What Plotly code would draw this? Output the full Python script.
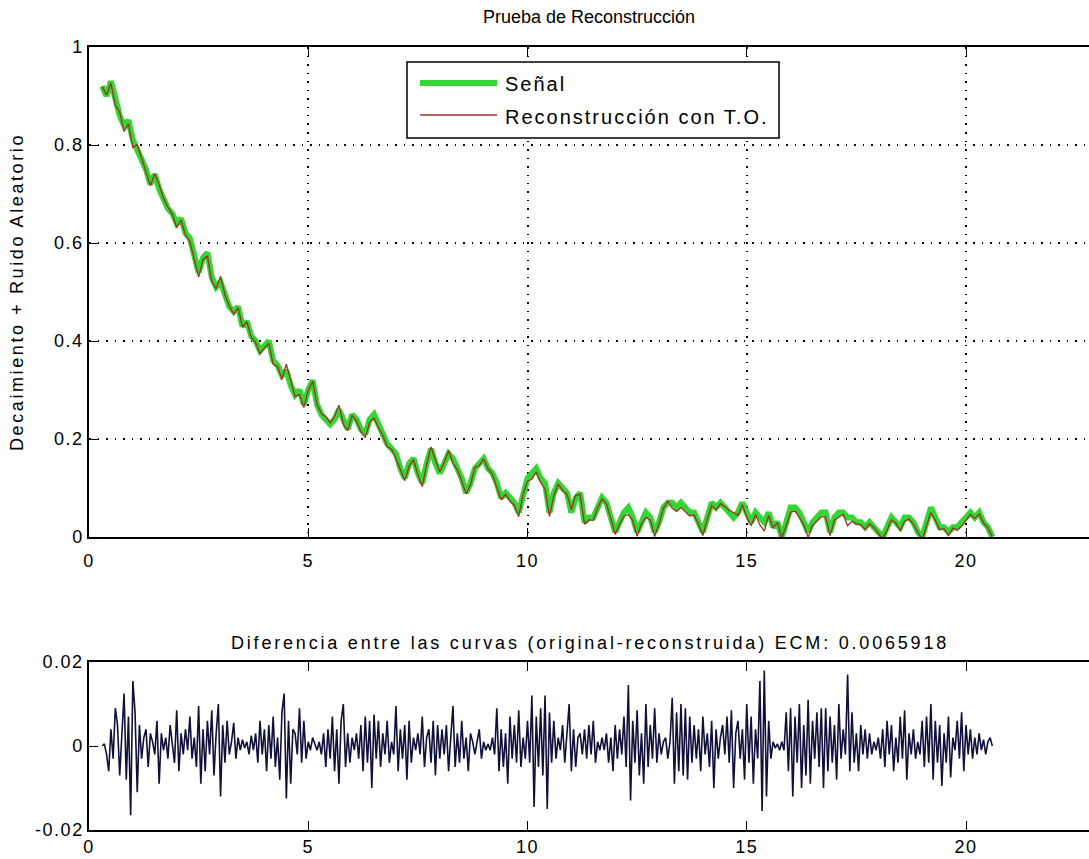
import numpy as np
import plotly.graph_objects as go

# ---------------- data ----------------
t_start = 0.3
dt_signal = 0.1
dt_diff = 0.05

signal = [
    0.92, 0.90, 0.93, 0.89, 0.86, 0.84, 0.85, 0.81, 0.79, 0.77,
    0.75, 0.72, 0.74, 0.71, 0.69, 0.67, 0.66, 0.64, 0.65, 0.62,
    0.61, 0.57, 0.54, 0.57, 0.58, 0.53, 0.51, 0.52, 0.49, 0.47,
    0.46, 0.47, 0.43, 0.44, 0.41, 0.40, 0.38, 0.39, 0.40, 0.36,
    0.35, 0.33, 0.34, 0.31, 0.29, 0.30, 0.27, 0.30, 0.32, 0.27,
    0.25, 0.24, 0.23, 0.24, 0.26, 0.24, 0.22, 0.25, 0.24, 0.22,
    0.21, 0.24, 0.25, 0.23, 0.21, 0.19, 0.18, 0.17, 0.14, 0.12,
    0.15, 0.16, 0.13, 0.11, 0.15, 0.18, 0.15, 0.13, 0.15, 0.17,
    0.16, 0.14, 0.12, 0.09, 0.11, 0.14, 0.15, 0.16, 0.14, 0.13,
    0.11, 0.08, 0.09, 0.08, 0.07, 0.05, 0.09, 0.12, 0.13, 0.14,
    0.12, 0.11, 0.05, 0.09, 0.11, 0.10, 0.09, 0.05, 0.08, 0.09,
    0.03, 0.04, 0.04, 0.06, 0.08, 0.07, 0.04, 0.01, 0.03, 0.05,
    0.06, 0.04, 0.01, 0.03, 0.05, 0.04, 0.01, 0.03, 0.06, 0.07,
    0.07, 0.06, 0.07, 0.06, 0.05, 0.05, 0.03, 0.01, 0.04, 0.07,
    0.06, 0.07, 0.06, 0.05, 0.04, 0.05, 0.07, 0.05, 0.03, 0.05,
    0.04, 0.03, 0.05, 0.02, 0.03, 0.00, 0.03, 0.06, 0.06, 0.05,
    0.03, 0.01, 0.03, 0.04, 0.05, 0.05, 0.01, 0.04, 0.05, 0.05,
    0.04, 0.04, 0.03, 0.03, 0.02, 0.03, 0.02, 0.01, 0.00, 0.02,
    0.04, 0.03, 0.02, 0.04, 0.04, 0.03, 0.01, 0.00, 0.03, 0.06,
    0.04, 0.02, 0.02, 0.01, 0.02, 0.02, 0.03, 0.04, 0.05, 0.04,
    0.05, 0.03, 0.02, 0.00,
]

# difference original - reconstruction, in thousandths
diff_milli = [
    0, 0.5, -2, -6, 4, -3, 9, 5, -7, 3,
    12.5, -8, 7, -16.5, 15.5, 8, -11, 5, -3, 2,
    4, -5, 3, 1, -2, 6, -9, 3, -1, 2,
    -3, 5, 1, -4, 8.5, -6, 3, -2, 4, -1,
    7, -3, 2, -5, 9.5, -9, 4, -6, 6, -2,
    8.5, -7, 3, 10, -12, 5, -4, 6, -2, 1,
    5.5, -3, 2, -1, 1.5, -0.5, 1, -2, 2.5, -1,
    3, -4, 6, -2, 4, -6, 5, -3, 7, -5,
    2, -8, 8, 12.5, -12.5, 6, -9, 4, 3, -2,
    9, -4, 6, -3, 1, -1, 2, 0.5, -1, 1,
    -2, 3, -5, 4, -3, 7, -6, 4, -9, 6,
    10, -5, 3, -4, 2, -1, 3, -3, 5, -6,
    7, -4, 6, -10, 7.5, -3, 6, -5, 3, -2,
    6, -4, 1, -2, 9.5, -6, 4, -3, 5, -8,
    6, -4, 2, -1, 3, -2, 7, -5, 2, 4,
    -4, 6, -7, 5, -3, 4, -2, 5, -6, 2,
    9.5, -5, 3, -4, 6, -3, 2, -6, 3, 1,
    -2, 1, 4, -3, 1, -1, 0.5, -1, 2, -2,
    9, -6, 4, -5, 3, -9, 7, -3, 5, -4,
    8.5, -5, 2, -3, 6, -4, 12, -14.5, 7, -5,
    9, -7, 12, -15, 8, -4, 6, -3, 2, -1,
    5, -4, 3, 10, -6, 4, -5, 2, 3, -2,
    4, -3, 5, -2, 6, -4, 1, -1, 2, -1,
    3, -4, 2, -6, 5, -3, 4, -2, 7, -5,
    14.5, -13, 6, -4, 8.5, -7, 3, -9, 10, -5,
    5, -3, 9, -4, 3, -2, 1, 2, -3, 1,
    11.5, -9, 8, -6, 10, -7, 9, -8, 7, -4,
    5, -3, 4, -6, 7, -2, 3, -5, 6, -10,
    4, -3, 2, 5, -2, 7, -4, 8.5, -10, 3,
    6, -3, 4, -8, 10, -4, 7, -9, 4, -3,
    15.5, -15.5, 18, -12, 6, -3, 1, -0.5, 0.5, -1,
    1, -1, 8, -6, 9, -12, 7, -4, 10, -10,
    5, -7, 11, -9, 6, -3, 8, -5, 9, -10,
    9, -6, 7, -4, 5, -8, 10, -3, 4, -2,
    17, -6, 8, -4, 3, -6, 5, -2, 4, -3,
    3, -2, 1, -1, 2, -3, 4, -5, 6, -2,
    5, -6, 2, -4, 7, -3, 8.5, -8, 3, -2,
    4, -3, 1, -2, 6, -5, 7, -4, 10, -8,
    6, -4, 5, -9.5, 3, -4, 7, -7.5, 2, -1,
    6, -3, 8, -6, 5, -2, 4, -3, 2, -2,
    3, -1, 1.5, -2, 1, 2, 0,
]

x_ticks = [0, 5, 10, 15, 20]
x_ticktext = ["0", "5", "10", "15", "20"]
y1_ticks = [0, 0.2, 0.4, 0.6, 0.8, 1]
y1_ticktext = ["0", "0.2", "0.4", "0.6", "0.8", "1"]
y2_ticks = [-0.02, 0, 0.02]
y2_ticktext = ["-0.02", "0", "0.02"]

title_top = "Prueba de Reconstrucción"
title_bottom = "Diferencia entre las curvas (original-reconstruida) ECM: 0.0065918"
ylabel_top = "Decaimiento + Ruido Aleatorio"
legend_names = ["Señal", "Reconstrucción con T.O."]

# ---------------- derived ----------------
sig = np.array(signal)
t_sig = np.round(t_start + dt_signal * np.arange(len(sig)), 3)
diff = np.array(diff_milli) / 1000.0
t_diff = np.round(t_start + dt_diff * np.arange(len(diff)), 3)
recon = sig - diff[::2][: len(sig)]

# ---------------- figure ----------------
W, H = 1089, 859
ML, MR, MT, MB = 89, 0, 47, 29
PH = H - MT - MB
top_y0, top_y1 = 537, 47
bot_y0, bot_y1 = 830, 662


def dom(ytop, ybot):
    return [(H - MB - ybot) / PH, (H - MB - ytop) / PH]


def px(xp):
    return (xp - ML) / (W - ML - MR)


def py(yp):
    return (H - MB - yp) / PH


def spaced(s, sp):
    return f'<span style="letter-spacing:{sp}px">{s}</span>'


FONT = "Liberation Sans, Arial, Helvetica, sans-serif"
green = "#33d633"
red = "#a0302a"
navy = "#10103a"

fig = go.Figure()
fig.add_trace(go.Scatter(x=t_sig, y=sig, mode="lines", name=legend_names[0],
                         line=dict(color=green, width=6), showlegend=False,
                         xaxis="x", yaxis="y"))
fig.add_trace(go.Scatter(x=t_sig, y=recon, mode="lines", name=legend_names[1],
                         line=dict(color=red, width=1.3), showlegend=False,
                         xaxis="x", yaxis="y"))
fig.add_trace(go.Scatter(x=t_diff, y=diff, mode="lines", name="Diferencia",
                         line=dict(color=navy, width=1.6),
                         showlegend=False, xaxis="x2", yaxis="y2"))

xr = [0, (W - ML - MR) / 43.85]
TICKFONT = dict(family=FONT, size=18, color="black")
xt = [spaced(s, 1.5) for s in x_ticktext]

common_x = dict(range=xr, tickvals=x_ticks, ticktext=xt, ticks="inside", ticklen=9,
                tickwidth=1.2, tickcolor="black", showline=True, linecolor="black",
                linewidth=1.5, mirror="ticks", zeroline=False, automargin=False,
                tickfont=TICKFONT)
common_y = dict(ticks="inside", ticklen=9, tickwidth=1.2, tickcolor="black",
                showline=True, linecolor="black", linewidth=1.5, mirror=False,
                zeroline=False, automargin=False, tickfont=TICKFONT)
right_ticks = dict(ticks="inside", ticklen=9, tickwidth=1.2, tickcolor="black",
                   showline=False, showgrid=False, zeroline=False, automargin=False,
                   showticklabels=False, side="right")

fig.update_layout(
    width=W, height=H,
    margin=dict(l=ML, r=MR, t=MT, b=MB, autoexpand=False),
    paper_bgcolor="white", plot_bgcolor="white",
    showlegend=False,
    xaxis=dict(domain=[0, 1], anchor="y", showgrid=True, gridcolor="black",
               gridwidth=1.5, griddash="1.5px,7px", ticklabelstandoff=7, **common_x),
    yaxis=dict(domain=dom(top_y1, top_y0), anchor="x", range=[0, 1],
               tickvals=y1_ticks, ticktext=[spaced(s, 1.5) for s in y1_ticktext],
               showgrid=True, gridcolor="black", gridwidth=1.5,
               griddash="1.5px,7px", **common_y),
    yaxis3=dict(overlaying="y", anchor="x", range=[0, 1], tickvals=y1_ticks,
                **right_ticks),
    xaxis2=dict(domain=[0, 1], anchor="y2", showgrid=False, ticklabelstandoff=0,
                **common_x),
    yaxis2=dict(domain=dom(bot_y1, bot_y0), anchor="x2", range=[-0.02, 0.02],
                tickvals=y2_ticks, ticktext=[spaced(s, 1.5) for s in y2_ticktext],
                showgrid=False, **common_y),
    yaxis4=dict(overlaying="y2", anchor="x2", range=[-0.02, 0.02], tickvals=y2_ticks,
                **right_ticks),
)

# subplot titles and y label
fig.add_annotation(text=title_top, xref="x domain", yref="paper", x=0.5,
                   y=py(17), xanchor="center", yanchor="middle",
                   showarrow=False, font=dict(family=FONT, size=18, color="black"))
fig.add_annotation(text=spaced(title_bottom, 2.8), xref="x2 domain", yref="paper",
                   x=0.501, y=py(643), xanchor="center", yanchor="middle",
                   showarrow=False, font=dict(family=FONT, size=18, color="black"))
fig.add_annotation(text=spaced(ylabel_top, 2.6), xref="paper", yref="paper",
                   x=px(17), y=py(292), xanchor="center", yanchor="middle",
                   textangle=-90, showarrow=False,
                   font=dict(family=FONT, size=18, color="black"))

# legend box
fig.add_shape(type="rect", xref="paper", yref="paper", x0=px(407), x1=px(779),
              y0=py(138), y1=py(62), line=dict(color="black", width=1.5),
              fillcolor="white", layer="above")
fig.add_shape(type="line", xref="paper", yref="paper", x0=px(420), x1=px(497),
              y0=py(83), y1=py(83), line=dict(color=green, width=6), layer="above")
fig.add_shape(type="line", xref="paper", yref="paper", x0=px(420), x1=px(497),
              y0=py(115), y1=py(115), line=dict(color=red, width=1.3), layer="above")
fig.add_annotation(text=spaced(legend_names[0], 2), xref="paper", yref="paper",
                   x=px(503), y=py(84), xanchor="left", yanchor="middle",
                   showarrow=False, font=dict(family=FONT, size=20, color="black"))
fig.add_annotation(text=spaced(legend_names[1], 2), xref="paper", yref="paper",
                   x=px(503), y=py(117), xanchor="left", yanchor="middle",
                   showarrow=False, font=dict(family=FONT, size=20, color="black"))

fig.write_html("out.html")
